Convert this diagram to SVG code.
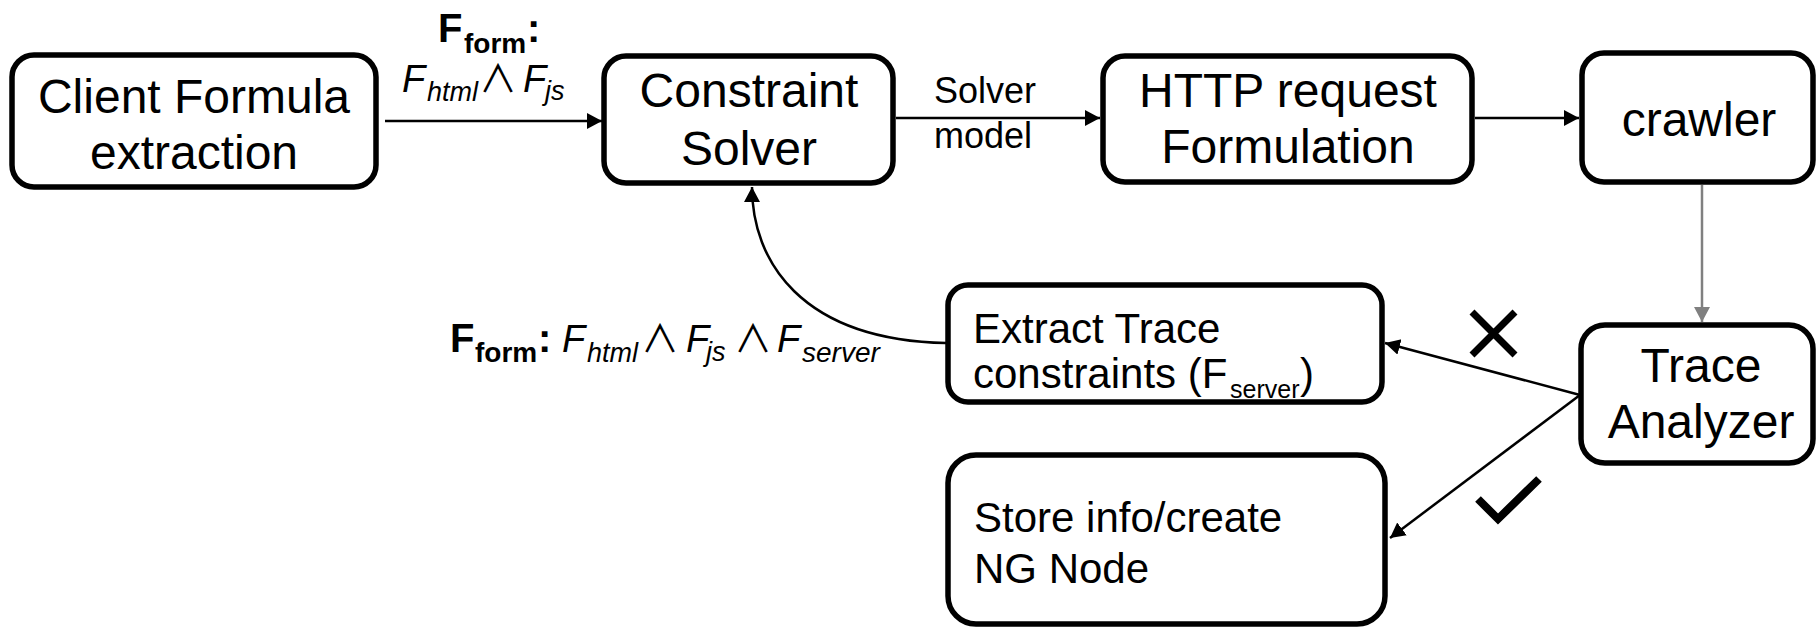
<svg xmlns="http://www.w3.org/2000/svg" width="1817" height="628" viewBox="0 0 1817 628">
<style>
.box{fill:#fff;stroke:#000;stroke-width:5.5}
.t{font-family:"Liberation Sans",Arial,"DejaVu Sans",sans-serif;fill:#000}
.big{font-size:48px;text-anchor:middle}
.mid{font-size:42px}
.lbl{font-size:36px}
.ln{stroke:#000;stroke-width:2.5;fill:none}
.gr{stroke:#808080;stroke-width:2.5;fill:none}
.mark{stroke:#000;fill:none}
.it{font-style:italic}
.and{font-family:"Noto Sans CJK SC","DejaVu Sans",sans-serif;font-size:38px}
</style>
<defs>
<marker id="ah" markerUnits="userSpaceOnUse" markerWidth="16" markerHeight="18" refX="15" refY="8" orient="auto"><path d="M0,0 L15,8 L0,16 z" fill="#000"/></marker>
<marker id="ahg" markerUnits="userSpaceOnUse" markerWidth="16" markerHeight="18" refX="15" refY="8" orient="auto"><path d="M0,0 L15,8 L0,16 z" fill="#808080"/></marker>
</defs>
<rect width="1817" height="628" fill="#fff"/>

<g id="connectors">
<path class="ln" d="M385 121 L602 121" marker-end="url(#ah)"/>
<path class="ln" d="M896 118 L1100 118" marker-end="url(#ah)"/>
<path class="ln" d="M1475 118 L1579 118" marker-end="url(#ah)"/>
<path class="gr" d="M1702 185 L1702 322" marker-end="url(#ahg)"/>
<path class="ln" d="M946 343 C800 340 752 260 752 187" marker-end="url(#ah)"/>
<path class="ln" d="M1580 395 L1385 343" marker-end="url(#ah)"/>
<path class="ln" d="M1580 395 L1390 538" marker-end="url(#ah)"/>
</g>

<g id="label-top" class="t">
<text font-weight="bold"><tspan x="438" y="42" font-size="40">F</tspan><tspan x="464" y="53" font-size="28">form</tspan><tspan x="527" y="42" font-size="40">:</tspan></text>
<text font-size="38"><tspan x="402" y="92" class="it">F</tspan><tspan x="427" y="101" font-size="27" class="it">html</tspan><tspan x="479" y="92" class="and">∧</tspan><tspan x="523" y="92" class="it">F</tspan><tspan x="545" y="100" font-size="27" class="it">js</tspan></text>
</g>

<g id="label-solver" class="t lbl">
<text x="934" y="103">Solver</text>
<text x="934" y="148">model</text>
</g>

<g id="label-bottom" class="t">
<text font-weight="bold"><tspan x="450" y="352" font-size="40">F</tspan><tspan x="475" y="362" font-size="28">form</tspan><tspan x="538" y="352" font-size="40">:</tspan></text>
<text font-size="38"><tspan x="562" y="352" class="it">F</tspan><tspan x="587" y="362" font-size="27" class="it">html</tspan><tspan x="641" y="352" class="and">∧</tspan><tspan x="686" y="352" class="it">F</tspan><tspan x="706" y="361" font-size="27" class="it">js</tspan><tspan x="734" y="352" class="and">∧</tspan><tspan x="777" y="352" class="it">F</tspan><tspan x="802" y="362" font-size="28" class="it">server</tspan></text>
</g>

<g id="node-client">
<rect class="box" x="12" y="55" width="364" height="132" rx="22"/>
<text class="t big" x="194" y="113">Client Formula</text>
<text class="t big" x="194" y="169">extraction</text>
</g>

<g id="node-solver">
<rect class="box" x="604" y="56" width="289" height="127" rx="22"/>
<text class="t big" x="749" y="107">Constraint</text>
<text class="t big" x="749" y="165">Solver</text>
</g>

<g id="node-http">
<rect class="box" x="1103" y="56" width="369" height="126" rx="22"/>
<text class="t big" x="1288" y="107">HTTP request</text>
<text class="t big" x="1288" y="163">Formulation</text>
</g>

<g id="node-crawler">
<rect class="box" x="1582" y="53" width="231" height="129" rx="22"/>
<text class="t big" x="1699" y="136" font-size="52">crawler</text>
</g>

<g id="node-trace-analyzer">
<rect class="box" x="1581" y="325" width="232" height="138" rx="24"/>
<text class="t big" x="1701" y="382">Trace</text>
<text class="t big" x="1701" y="438">Analyzer</text>
</g>

<g id="node-extract">
<rect class="box" x="948" y="285" width="434" height="117" rx="20"/>
<text class="t mid" x="973" y="343">Extract Trace</text>
<text class="t mid"><tspan x="973" y="388">constraints (F</tspan><tspan x="1230" y="398" font-size="25">server</tspan><tspan x="1300" y="388">)</tspan></text>
</g>

<g id="node-store">
<rect class="box" x="948" y="455" width="437" height="169" rx="28"/>
<text class="t mid" x="974" y="532">Store info/create</text>
<text class="t mid" x="974" y="583">NG Node</text>
</g>

<g id="marks">
<path class="mark" stroke-width="7" d="M1472 312 L1515 355 M1515 312 L1472 355"/>
<path class="mark" stroke-width="8" d="M1478 499 L1498 519 L1539 479"/>
</g>
</svg>
